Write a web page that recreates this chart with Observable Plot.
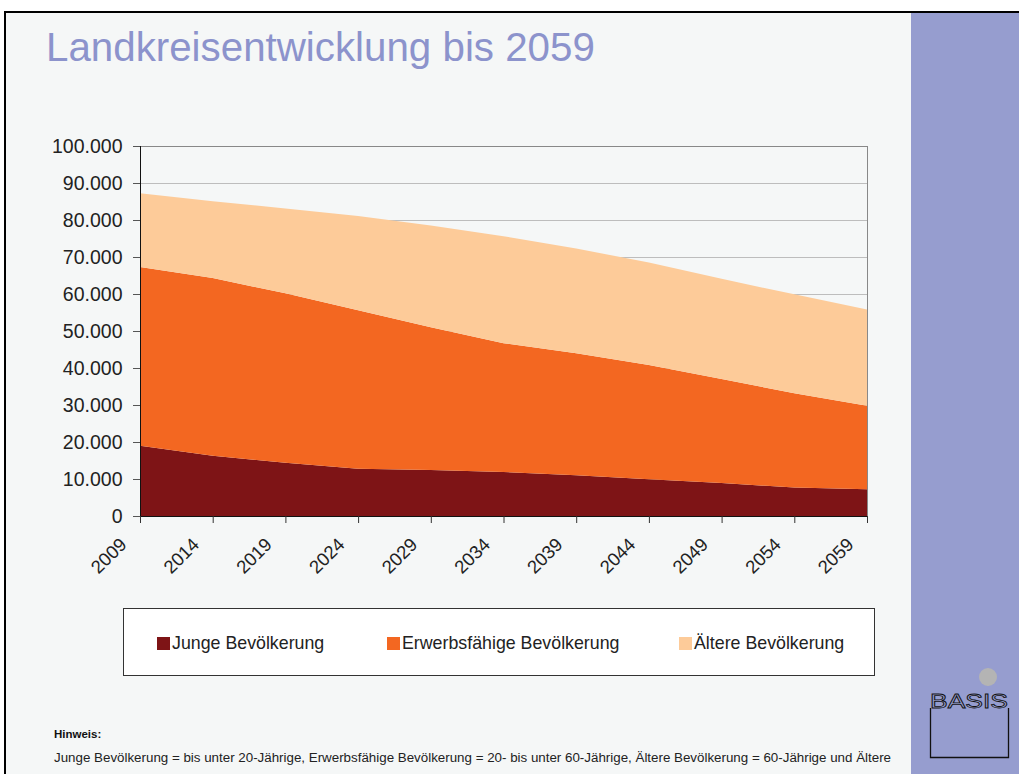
<!DOCTYPE html>
<html>
<head>
<meta charset="utf-8">
<script src="https://cdn.jsdelivr.net/npm/d3@7"></script>
<script src="https://cdn.jsdelivr.net/npm/@observablehq/plot@0.6"></script>
<style>
  html, body { margin: 0; padding: 0; }
  body { width: 1019px; height: 774px; position: relative; overflow: hidden; background: #ffffff; font-family: "Liberation Sans", Arial, sans-serif; }
  #page { position: absolute; left: 4px; top: 11px; width: 1015px; height: 763px; background: #f5f7f7; border-left: 2px solid #000; border-top: 2px solid #000; box-sizing: border-box; }
  #side { position: absolute; left: 911px; top: 13px; width: 108px; height: 761px; background: #969dcf; }
  #title { position: absolute; left: 46px; top: 25px; font-size: 40.3px; color: #8c93cc; white-space: nowrap; }
  #chart { position: absolute; left: 0; top: 130px; }
  #legend { position: absolute; left: 123px; top: 608px; width: 752px; height: 68px; background: #ffffff; border: 1px solid #333; box-sizing: border-box; }
  .li { position: absolute; top: 24px; font-size: 17.8px; color: #222; white-space: nowrap; }
  .sw { display: inline-block; width: 13px; height: 13px; vertical-align: -1px; margin-right: 2px; }
  #notes { position: absolute; left: 0; top: 700px; }
  #logo { position: absolute; left: 911px; top: 640px; }
</style>
</head>
<body>
<div id="page"></div>
<div id="side"></div>
<div id="title"></div>
<div id="chart"></div>
<div id="legend"></div>
<svg id="notes" width="911" height="74">
  <text x="54" y="38" font-size="11.5" font-weight="bold" fill="#111" font-family="Liberation Sans, Arial, sans-serif" id="hinweis"></text>
  <text x="54" y="62" font-size="12" fill="#222" font-family="Liberation Sans, Arial, sans-serif" textLength="837" lengthAdjust="spacingAndGlyphs" id="footnote"></text>
</svg>
<svg id="logo" width="108" height="134">
  <circle cx="77" cy="37" r="9" fill="#b4b4b4"></circle>
  <text x="19" y="68" font-size="20" font-family="Liberation Sans Narrow, Liberation Sans, Arial, sans-serif" fill="none" stroke="#111" stroke-width="0.8" textLength="78" lengthAdjust="spacingAndGlyphs" id="logotext"></text>
  <path d="M19.5,68 V117.5 H97.5 V68" fill="none" stroke="#111" stroke-width="1.3"></path>
</svg>
<script>
// ---- data (values in persons) ----
const years = [2009, 2014, 2019, 2024, 2029, 2034, 2039, 2044, 2049, 2054, 2059];
const seriesNames = ["Junge Bevölkerung", "Erwerbsfähige Bevölkerung", "Ältere Bevölkerung"];
const junge   = [19000, 16300, 14400, 12800, 12400, 11900, 11000,  9900,  8900,  7700,  7200];
const erwerbs = [48300, 48000, 45800, 42800, 38600, 34800, 33000, 30900, 28100, 25500, 22600];
const aeltere = [19900, 20800, 22900, 25500, 27500, 28900, 28300, 27700, 27100, 26700, 26000];
const seriesColors = ["#7e1416", "#f36721", "#fdcb99"];
const yTicks = [0, 10000, 20000, 30000, 40000, 50000, 60000, 70000, 80000, 90000, 100000];
const titleText = "Landkreisentwicklung bis 2059";
const hinweisText = "Hinweis:";
const footnoteText = "Junge Bevölkerung = bis unter 20-Jährige, Erwerbsfähige Bevölkerung = 20- bis unter 60-Jährige, Ältere Bevölkerung = 60-Jährige und Ältere";
const logoText = "BASIS";

document.getElementById("hinweis").textContent = hinweisText;
document.getElementById("footnote").textContent = footnoteText;
document.getElementById("logotext").textContent = logoText;

const seriesValues = [junge, erwerbs, aeltere];
const data = years.flatMap((yr, i) => seriesNames.map((name, s) => ({year: yr, group: name, value: seriesValues[s][i]})));

const fmt = d => d3.format(",")(d).replace(/,/g, ".");

const chart = Plot.plot({
  width: 911,
  height: 470,
  marginLeft: 140,
  marginRight: 44,
  marginTop: 16,
  marginBottom: 84,
  style: {fontFamily: "Liberation Sans, Arial, sans-serif", fontSize: "19.5px", color: "#222", background: "transparent", overflow: "visible"},
  x: {domain: [2009, 2059]},
  y: {domain: [0, 100000]},
  color: {domain: seriesNames, range: seriesColors},
  marks: [
    Plot.gridY(yTicks.slice(1, -1), {stroke: "#bdbdbd", strokeOpacity: 1}),
    Plot.areaY(data, {x: "year", y: "value", fill: "group", order: seriesNames}),
    Plot.ruleY([100000], {stroke: "#888"}),
    Plot.ruleX([2059], {stroke: "#888"}),
    Plot.ruleX([2009], {stroke: "#111"}),
    Plot.ruleY([0], {stroke: "#111"}),
    Plot.axisY({ticks: yTicks, tickFormat: fmt, tickSize: 7, tickPadding: 11, label: null, stroke: "#555"}),
    Plot.axisX({ticks: years, tickFormat: () => "", tickSize: 7, label: null, stroke: "#333"}),
    Plot.axisX({ticks: years, tickFormat: d => String(d), tickRotate: -45, tickSize: 0, tickPadding: 13, dx: -17, dy: 12, label: null, fontSize: 18.5})
  ]
});
document.getElementById("chart").appendChild(chart);
document.getElementById("title").textContent = titleText;

// legend
const legend = document.getElementById("legend");
const legendX = [33, 263, 555];
seriesNames.forEach((name, i) => {
  const item = document.createElement("div");
  item.className = "li";
  item.style.left = legendX[i] + "px";
  const sw = document.createElement("span");
  sw.className = "sw";
  sw.style.background = seriesColors[i];
  item.appendChild(sw);
  item.appendChild(document.createTextNode(name));
  legend.appendChild(item);
});
</script>
</body>
</html>
